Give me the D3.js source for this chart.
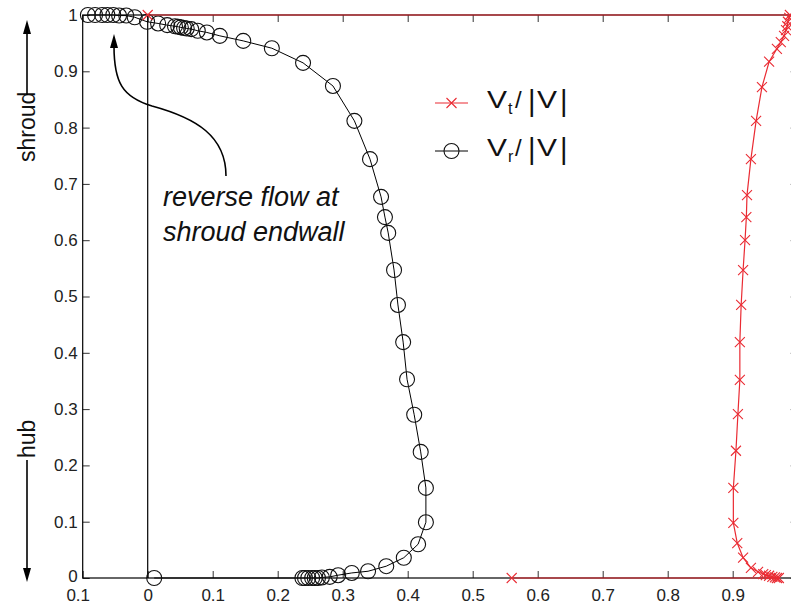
<!DOCTYPE html>
<html>
<head>
<meta charset="utf-8">
<script src="https://cdn.jsdelivr.net/npm/d3@7"></script>
<style>
  html, body { margin: 0; padding: 0; background: #fff; }
  svg { display: block; }
  text { font-family: "Liberation Sans", Arial, sans-serif; }
</style>
</head>
<body>
<svg id="chart" width="791" height="607"></svg>
<script>
// ---- data ----
const xTicks = [-0.1, 0, 0.1, 0.2, 0.3, 0.4, 0.5, 0.6, 0.7, 0.8, 0.9];
const xTickLabels = ["0.1", "0", "0.1", "0.2", "0.3", "0.4", "0.5", "0.6", "0.7", "0.8", "0.9"];
const yTicks = [0, 0.1, 0.2, 0.3, 0.4, 0.5, 0.6, 0.7, 0.8, 0.9, 1];
const yTickLabels = ["0", "0.1", "0.2", "0.3", "0.4", "0.5", "0.6", "0.7", "0.8", "0.9", "1"];

// Vr/|V| (black circles), shroud -> hub
const vrX = [-0.092, -0.081, -0.070, -0.062, -0.053, -0.044, -0.033, -0.020, -0.001, 0.016, 0.030,
  0.042, 0.047, 0.051, 0.056, 0.060, 0.067, 0.077, 0.091, 0.111, 0.147, 0.191, 0.239, 0.285,
  0.318, 0.342, 0.359, 0.365, 0.370, 0.379, 0.385, 0.393, 0.399, 0.410, 0.420, 0.428, 0.428,
  0.416, 0.394, 0.367, 0.339, 0.314, 0.293, 0.280, 0.268, 0.262, 0.257, 0.253, 0.247, 0.242, 0.238, 0.010];
const vrY = [1.0, 1.0, 1.0, 1.0, 1.0, 0.999, 0.999, 0.996, 0.988, 0.985, 0.982,
  0.980, 0.979, 0.978, 0.977, 0.976, 0.975, 0.972, 0.969, 0.963, 0.954, 0.941, 0.915, 0.874,
  0.812, 0.744, 0.677, 0.641, 0.613, 0.547, 0.485, 0.419, 0.353, 0.290, 0.224, 0.160, 0.099,
  0.060, 0.036, 0.021, 0.012, 0.009, 0.005, 0.002, 0.001, 0.0, 0.0, 0.0, 0.0, 0.0, 0.0, 0.0];

// Vt/|V| (red crosses)
const vtX = [0.0, 0.988, 0.987, 0.985, 0.984, 0.982, 0.979, 0.974, 0.968, 0.956, 0.945, 0.936,
  0.928, 0.922, 0.921, 0.919, 0.916, 0.913, 0.911, 0.911, 0.908, 0.905, 0.901, 0.901,
  0.907, 0.916, 0.928, 0.939, 0.947, 0.951, 0.956, 0.961, 0.965, 0.968, 0.971, 0.56];
const vtY = [1.0, 1.0, 0.995, 0.988, 0.980, 0.973, 0.963, 0.952, 0.940, 0.917, 0.872, 0.812,
  0.744, 0.680, 0.641, 0.600, 0.547, 0.485, 0.419, 0.352, 0.291, 0.226, 0.160, 0.098,
  0.062, 0.036, 0.018, 0.011, 0.007, 0.005, 0.004, 0.002, 0.001, 0.0, 0.0, 0.0];

// ---- layout ----
const svg = d3.select("#chart");
const pL = 82.7, pR = 797.7, pT = 15, pB = 578;
const red = "#ea2b33";

const x = d3.scaleLinear().domain([-0.1, 1.0]).range([pL, pR]);
const y = d3.scaleLinear().domain([0, 1]).range([pB, pT]);

// axes
const fmtX = d => xTickLabels[xTicks.indexOf(d)];
const fmtY = d => yTickLabels[yTicks.indexOf(d)];

const gx = svg.append("g").attr("transform", `translate(0,${pB})`)
  .call(d3.axisBottom(x).tickValues(xTicks).tickFormat(fmtX).tickSize(-7).tickSizeOuter(0).tickPadding(11));
const gy = svg.append("g").attr("transform", `translate(${pL},0)`)
  .call(d3.axisLeft(y).tickValues(yTicks).tickFormat(fmtY).tickSize(-7).tickSizeOuter(0).tickPadding(5));
const gt = svg.append("g").attr("transform", `translate(0,${pT})`)
  .call(d3.axisTop(x).tickValues(xTicks).tickFormat("").tickSize(-7).tickSizeOuter(0));
const gr = svg.append("g").attr("transform", `translate(${pR},0)`)
  .call(d3.axisRight(y).tickValues(yTicks).tickFormat("").tickSize(-7).tickSizeOuter(0));

[gx, gy, gt, gr].forEach(g => {
  g.selectAll(".domain").remove();
  g.selectAll(".tick line").attr("stroke", "#333").attr("stroke-width", 1);
  g.selectAll("text").attr("fill", "#222").style("font-size", "17px")
    .style("font-family", "'Liberation Sans', Arial, sans-serif");
});
gx.selectAll(".tick text").filter(d => d === -0.1).attr("dx", -5);
gy.selectAll(".tick text").filter(d => d === 0).attr("dy", "0.2em");

svg.append("rect").attr("x", pL).attr("y", pT)
  .attr("width", pR - pL).attr("height", pB - pT)
  .attr("fill", "none").attr("stroke", "#000").attr("stroke-width", 1.2);

// zero line
svg.append("line").attr("x1", x(0)).attr("x2", x(0)).attr("y1", y(0)).attr("y2", y(1))
  .attr("stroke", "#000").attr("stroke-width", 1.2);

// series
const vr = vrX.map((v, i) => [v, vrY[i]]);
const vt = vtX.map((v, i) => [v, vtY[i]]);
const line = d3.line().x(d => x(d[0])).y(d => y(d[1]));

svg.append("path").datum(vr).attr("d", line).attr("fill", "none")
  .attr("stroke", "#000").attr("stroke-width", 1);
svg.append("g").selectAll("circle").data(vr).join("circle")
  .attr("cx", d => x(d[0])).attr("cy", d => y(d[1])).attr("r", 7.5)
  .attr("fill", "none").attr("stroke", "#111").attr("stroke-width", 1.1);

svg.append("path").datum(vt).attr("d", line).attr("fill", "none")
  .attr("stroke", red).attr("stroke-width", 1.2);
const cross = "M-5,-5L5,5M-5,5L5,-5";
svg.append("g").selectAll("path").data(vt).join("path")
  .attr("transform", d => `translate(${x(d[0])},${y(d[1])})`)
  .attr("d", cross).attr("fill", "none").attr("stroke", red).attr("stroke-width", 1.1);

// legend
const leg = svg.append("g");
leg.append("line").attr("x1", 435).attr("x2", 468).attr("y1", 103).attr("y2", 103)
  .attr("stroke", red).attr("stroke-width", 1.2);
leg.append("path").attr("transform", "translate(451.5,103)").attr("d", cross)
  .attr("fill", "none").attr("stroke", red).attr("stroke-width", 1.1);
leg.append("line").attr("x1", 435).attr("x2", 468).attr("y1", 151).attr("y2", 151)
  .attr("stroke", "#000").attr("stroke-width", 1);
leg.append("circle").attr("cx", 451.5).attr("cy", 151).attr("r", 7.5)
  .attr("fill", "none").attr("stroke", "#111").attr("stroke-width", 1.1);

function legendLabel(yb, sub) {
  const g = leg.append("g").attr("fill", "#111");
  g.append("text").attr("x", 487).attr("y", yb).style("font-size", "24px")
    .attr("textLength", 20).attr("lengthAdjust", "spacingAndGlyphs").text("V");
  g.append("text").attr("x", 508).attr("y", yb + 6).style("font-size", "16px").text(sub);
  g.append("text").attr("x", 515).attr("y", yb).style("font-size", "24px").text("/");
  g.append("text").attr("x", 528).attr("y", yb + 3).style("font-size", "29px").text("|");
  g.append("text").attr("x", 537).attr("y", yb).style("font-size", "24px")
    .attr("textLength", 20).attr("lengthAdjust", "spacingAndGlyphs").text("V");
  g.append("text").attr("x", 560).attr("y", yb + 3).style("font-size", "29px").text("|");
}
legendLabel(108, "t");
legendLabel(156, "r");

// annotation
const ann = svg.append("g");
ann.append("text").attr("x", 163).attr("y", 206).style("font-size", "27px")
  .style("font-style", "italic").attr("fill", "#111").text("reverse flow at");
ann.append("text").attr("x", 163).attr("y", 241).style("font-size", "27px")
  .style("font-style", "italic").attr("fill", "#111").text("shroud endwall");
ann.append("path")
  .attr("d", "M226,176 C226,136 196,118 152,106 C122,97 114,82 114,46")
  .attr("fill", "none").attr("stroke", "#000").attr("stroke-width", 1.6);
ann.append("path").attr("d", "M114,34 L110,48 L118,48 Z").attr("fill", "#000");

// side labels
const side = svg.append("g");
side.append("text").attr("transform", "translate(35,162) rotate(-90)")
  .style("font-size", "23px").attr("fill", "#111").text("shroud");
side.append("line").attr("x1", 27).attr("x2", 27).attr("y1", 95).attr("y2", 32)
  .attr("stroke", "#000").attr("stroke-width", 1.6);
side.append("path").attr("d", "M27,20 L23,34 L31,34 Z").attr("fill", "#000");

side.append("text").attr("transform", "translate(35,458) rotate(-90)")
  .style("font-size", "23px").attr("fill", "#111").text("hub");
side.append("line").attr("x1", 27).attr("x2", 27).attr("y1", 460).attr("y2", 570)
  .attr("stroke", "#000").attr("stroke-width", 1.6);
side.append("path").attr("d", "M27,582 L23,568 L31,568 Z").attr("fill", "#000");
</script>
</body>
</html>
